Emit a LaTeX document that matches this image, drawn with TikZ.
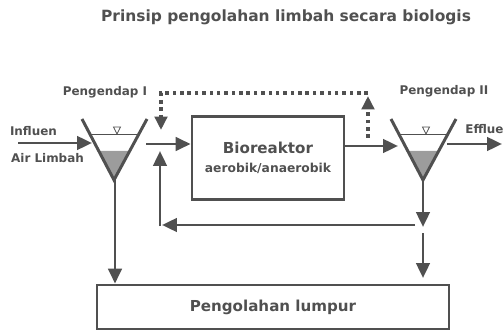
\documentclass[tikz,border=0pt]{standalone}
\usepackage{fontspec}
\setmainfont{DejaVu Sans}
\usepackage{xcolor}
\usepackage{tikz}
\usetikzlibrary{arrows.meta, positioning, calc}

\definecolor{ink}{HTML}{505050}
\definecolor{sludge}{HTML}{9C9C9C}

\begin{document}
\begin{tikzpicture}[
        x=0.02cm, y=-0.02cm,
        base/.style={
            draw=ink, align=center, font=\bfseries, text=ink, line width=1.6pt
        },
        reactor/.style={base, minimum width=3.04cm, minimum height=1.66cm, inner sep=0pt},
        sludgebox/.style={base, minimum width=7.04cm, minimum height=0.88cm, inner sep=0pt},
        label/.style={font=\bfseries\fontsize{6.8}{8}\selectfont, text=ink, inner sep=0pt},
        arrow/.style={draw=ink, line width=1.7pt, -{Triangle[length=0.3cm, width=0.27cm]}},
        dotline/.style={draw=ink, line width=2pt, dash pattern=on 2pt off 2.2pt,
            -{Triangle[length=0.27cm, width=0.25cm]}},
        wall/.style={draw=ink, line width=1.7pt},
        water/.style={draw=ink, line width=0.5pt}
    ]
        \useasboundingbox (0,0) rectangle (504,331);

        % Judul
        \node[font=\bfseries\fontsize{8.8}{11}\selectfont, text=ink] (title) at (286,17)
            {Prinsip pengolahan limbah secara biologis};

        % Blok
        \node[reactor] (bio) at (268,158)
            {\fontsize{8.6}{11}\selectfont Bioreaktor \\[-1pt] \fontsize{7}{8}\selectfont aerobik/anaerobik};
        \node[sludgebox] (lumpur) at (273,307)
            {\fontsize{8.6}{10}\selectfont Pengolahan lumpur};

        % Pengendap (corong)
        \foreach \x/\n in {114/I, 423/II} {
            \coordinate (v\n) at (\x,180);
            \fill[sludge] (\x-15.5,151) -- (\x+15.5,151) -- (v\n) -- cycle;
            \draw[water] (\x-24,134) -- (\x+24,134);
            \draw[water] (\x+3,134) -- (\x-0.5,127) -- (\x+6.5,127) -- cycle;
            \draw[wall] (\x-32,119) -- (v\n) -- (\x+33,119);
        }

        % Label
        \node[label] (penI) at (105,92) {Pengendap I};
        \node[label] (penII) at (444,91) {Pengendap II};
        \node[label] (influen) at (33.5,131) {Influen};
        \node[label] (airl) at (47.5,158) {Air Limbah};
        \node[label, anchor=west] (effluen) at (465,129) {Effluen};

        % Titik bantu
        \coordinate (inA) at (18,143);
        \coordinate (inB) at (92,143);
        \coordinate (jA) at (146,144);
        \coordinate (oA) at (bio.east |- 0,146);
        \coordinate (oB) at (398,146);
        \coordinate (eA) at (447,144);
        \coordinate (eB) at (502,144);
        \coordinate (stemI) at (115,180);
        \coordinate (split) at (423,227);
        \coordinate (ret) at (415,225);
        \coordinate (retc) at (160,225);
        \coordinate (retup) at (160,151);
        \coordinate (dA) at (368,138);
        \coordinate (dB) at (368,96);
        \coordinate (dC) at (368,93);
        \coordinate (dD) at (161,130);

        % Panah
        \draw[arrow] (inA) -- (inB);
        \draw[arrow] (jA) -- (bio.west |- jA);
        \draw[arrow] (oA) -- (oB);
        \draw[arrow] (eA) -- (eB);
        \draw[arrow] (stemI) -- (stemI |- lumpur.north);
        \draw[arrow] (vII) -- (split);
        \draw[arrow] (ret) -- ($(retc)+(2,0)$);
        \draw[draw=ink, line width=1.7pt] ($(retc)+(0,1)$) -- (retc);
        \draw[arrow] ($(retc)+(0,1)$) -- (retup);
        \draw[arrow] (423,233) -- (423,278);

        % Resirkulasi (titik-titik)
        \draw[dotline] (dA) -- (dB);
        \draw[dotline] (dC) -| (dD);

    \end{tikzpicture}
\end{document}
